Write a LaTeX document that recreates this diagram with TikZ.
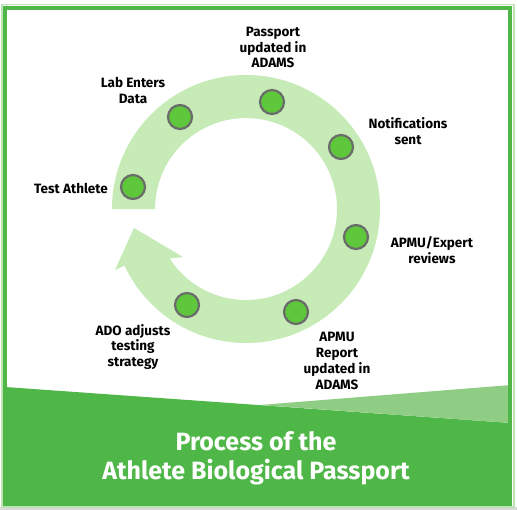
\documentclass[tikz,border=0pt]{standalone}
\usepackage{fontspec}
\setmainfont{Fira Sans}
\definecolor{ringc}{HTML}{C6EBB6}
\definecolor{dotc}{HTML}{5EC73C}
\definecolor{dotline}{HTML}{6B6B6B}
\definecolor{bandc}{HTML}{4FB748}
\definecolor{bandlight}{HTML}{8ECD83}
\definecolor{edgec}{HTML}{BDE3B3}
\begin{document}
\begin{tikzpicture}[x=1pt,y=1pt,
 marker/.style={circle,fill=dotc,draw=dotline,line width=2.2pt,minimum size=24pt,inner sep=0pt},
 lbl/.style={font=\fontsize{13.5}{15.8}\selectfont\bfseries,align=center,text=black,inner sep=0pt},
 ttl/.style={font=\fontsize{25}{31}\selectfont\bfseries,align=center,text=white,inner sep=0pt}]
\useasboundingbox (0,0) rectangle (517,-510);
\fill[white] (0,0) rectangle (517,-510);
\fill[black!15] (0,-507) rectangle (517,-510);
\draw[edgec,line width=1.5pt] (2,-4.5) rectangle (514,-507);
% bottom band
\fill[bandc] (5,-387) -- (511,-423) -- (511,-505) -- (5,-505) -- cycle;
\fill[bandlight] (260,-405) -- (511,-385) -- (511,-423) -- cycle;
\draw[bandc,line width=4pt] (5,-8) rectangle (510,-504);
% ring arrow
\fill[ringc] (112,-209) arc[start angle=180,end angle=-155,radius=134]
  -- (115,-270) -- (134,-228) -- (183,-257) -- (169.7,-258.6)
  arc[start angle=-147,end angle=180,radius=91] -- cycle;
% markers
\node[marker] (m1) at (133,-187) {};
\node[marker] (m2) at (180,-117) {};
\node[marker] (m3) at (272,-102) {};
\node[marker] (m4) at (341,-147) {};
\node[marker] (m5) at (356,-237) {};
\node[marker] (m6) at (296,-312) {};
\node[marker] (m7) at (187,-305) {};
% labels
\node[lbl] (l1) at (71,-188) {Test Athlete};
\node[lbl] (l2) at (133,-90.5) {Lab Enters\\Data};
\node[lbl] (l3) at (273,-47.5) {Passport\\updated in\\ADAMS};
\node[lbl] (l4) at (408,-131.5) {Notifications\\sent};
\node[lbl] (l5) at (432,-250) {APMU/Expert\\reviews};
\node[lbl] (l6) at (337,-361) {APMU\\Report\\updated in\\ADAMS};
\node[lbl] (l7) at (133,-347) {ADO adjusts\\testing\\strategy};
% title
\node[ttl] (t1) at (256,-441) {Process of the};
\node[ttl] (t2) at (256,-472) {Athlete Biological Passport};
\end{tikzpicture}
\end{document}
